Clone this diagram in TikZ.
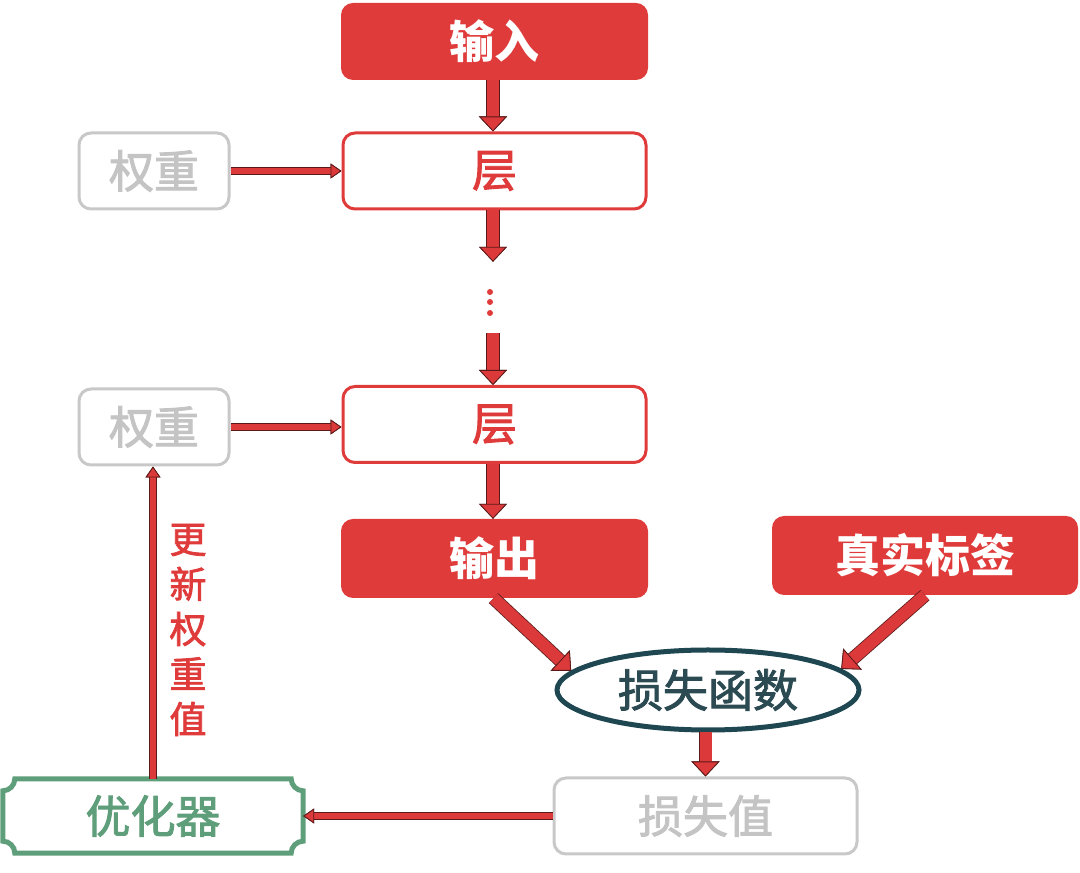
\documentclass[tikz,border=0pt]{standalone}
\usepackage{fontspec}
\newfontfamily\cjk{Noto Sans CJK SC}
\newfontfamily\cjkm[FakeBold=2]{Noto Sans CJK SC}
\usetikzlibrary{arrows.meta,shapes.geometric,calc}
\definecolor{boxred}{HTML}{E03B3B}
\definecolor{arrowred}{HTML}{DC3A3A}
\definecolor{arrowdark}{HTML}{5A1A1A}
\definecolor{greytxt}{HTML}{C4C4C4}
\definecolor{greyline}{HTML}{C8C8C8}
\definecolor{optgreen}{HTML}{5E9E7A}
\definecolor{teal}{HTML}{1F4752}
\definecolor{tealtxt}{HTML}{2B4A52}
\tikzset{
  base/.style={rounded corners=12pt, minimum height=76pt, inner sep=0pt, font=\cjkm\fontsize{45}{50}\selectfont},
  redfill/.style={base, fill=boxred, text=white, minimum width=307pt, font=\cjk\bfseries\fontsize{45}{50}\selectfont},
  redline/.style={base, draw=boxred, line width=3pt, fill=white, text=boxred, minimum width=303pt},
  greybox/.style={base, draw=greyline, line width=3pt, fill=white, text=greytxt},
  fat/.style={line width=12pt, draw=arrowred,
    -{Triangle[width=28pt,length=15pt,line width=0.8pt,fill=arrowred,color=arrowdark]},
    preaction={draw=arrowdark,line width=13.6pt,-{Triangle[width=28pt,length=15pt,line width=0.8pt,fill=arrowdark,color=arrowdark]}}},
  thin/.style={line width=6pt, draw=arrowred,
    -{Triangle[width=15pt,length=11pt,line width=0.8pt,fill=arrowred,color=arrowdark]},
    preaction={draw=arrowdark,line width=7.4pt,-{Triangle[width=15pt,length=11pt,line width=0.8pt,fill=arrowdark,color=arrowdark]}}},
}
\begin{document}
\begin{tikzpicture}
\useasboundingbox (0,0) rectangle (1080pt,873pt);
\begin{scope}[x=1pt,y=1pt]
\node[redfill, minimum height=77pt] (in) at (494.5,831.5) {输入};
\node[redline] (l1) at (494.5,702) {层};
\node[greybox, minimum width=150pt] (w1) at (154,702) {权重};
\node[inner sep=0pt, minimum width=10pt, minimum height=71pt] (dots) at (493,575.5) {};
\foreach \dy in {5.5,-4.5,-15.5} \fill[boxred] ($(dots.center)+(-3,\dy)$) circle (3pt);
\node[redline] (l2) at (494.5,448.5) {层};
\node[greybox, minimum width=150pt] (w2) at (154,446) {权重};
\node[redfill, minimum height=79pt] (out) at (494.5,314.5) {输出};
\node[redfill, minimum width=306pt, minimum height=79pt] (lab) at (925,317.5) {真实标签};
\node[ellipse, draw=teal, line width=5pt, fill=white, minimum width=302pt, minimum height=80pt, inner sep=0pt, text=tealtxt, font=\cjkm\fontsize{45}{50}\selectfont] (loss) at (708,183) {损失函数};
\node[greybox, minimum width=303pt] (lv) at (705.5,57) {损失值};
\node[inner sep=0pt, minimum width=300pt, minimum height=74pt, text=optgreen, font=\cjkm\fontsize{45}{50}\selectfont] (opt) at (153,57) {优化器};
\def\rr{12}
\draw[optgreen, line width=5pt]
  ($(opt.north west)+(\rr,0)$) -- ($(opt.north east)+(-\rr,0)$)
  arc[start angle=180, end angle=270, radius=\rr pt]
  -- ($(opt.south east)+(0,\rr)$)
  arc[start angle=90, end angle=180, radius=\rr pt]
  -- ($(opt.south west)+(\rr,0)$)
  arc[start angle=0, end angle=90, radius=\rr pt]
  -- ($(opt.north west)+(0,-\rr)$)
  arc[start angle=270, end angle=360, radius=\rr pt] -- cycle;
\node[text=boxred, align=center, inner sep=0pt, font=\cjkm\fontsize{37}{45}\selectfont] (upd) at (188,243) {更\\新\\权\\重\\值};
% connectors
\draw[fat] (in.south -| dots) -- (l1.north -| dots);
\draw[fat] (l1.south -| dots) -- (dots.north);
\draw[fat] (dots.south) -- (l2.north -| dots);
\draw[fat] (l2.south -| dots) -- (out.north -| dots);
\draw[thin] (w1.east) -- (l1.west);
\draw[thin] (w2.east) -- (w2.east -| l2.west);
\draw[fat] ($(out.south)+(-1,0)$) -- (loss.172);
\draw[fat] (lab.south) -- (loss.9);
\draw[fat] (loss.south -| lv) -- (lv.north);
\draw[thin] (lv.west) -- (lv.west -| opt.east);
\draw[thin] (opt.north) -- (opt.north |- w2.south);
\end{scope}
\end{tikzpicture}
\end{document}
